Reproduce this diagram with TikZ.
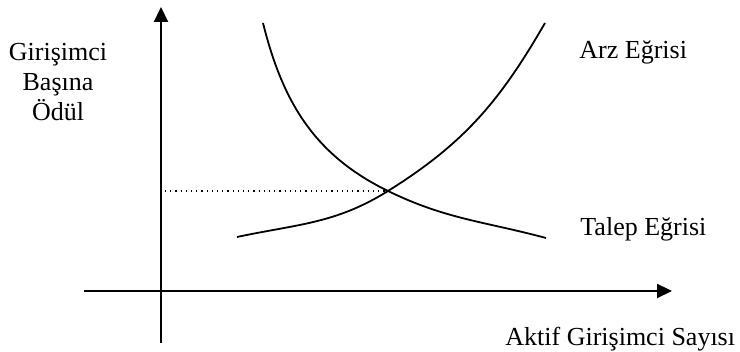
\documentclass[tikz,border=0pt]{standalone}
\usepackage{fontspec}
\setmainfont{Liberation Serif}
\usepackage{tikz}
\usetikzlibrary{arrows.meta,positioning}
\tikzset{
  axisline/.style={-{Triangle[length=7.5pt,width=7pt]},line width=1.1pt,black},
  curveline/.style={line width=0.9pt,black},
  guideline/.style={dotted,line width=0.6pt,black},
  axislabel/.style={font=\fontsize{13}{14}\selectfont,align=center,inner sep=0pt},
  curvelabel/.style={font=\fontsize{13}{14}\selectfont,anchor=base west,inner sep=0pt}
}
\begin{document}
\begin{tikzpicture}[x=0.5pt,y=0.5pt]
  \useasboundingbox (0,0) rectangle (740,352);
  % axes
  \coordinate (ybot) at (161,9);
  \coordinate (ytop) at (161,345);
  \coordinate (xleft) at (84,61);
  \coordinate (xright) at (672,61);
  \draw[axisline] (ybot) -- (ytop);
  \draw[axisline] (xleft) -- (xright);

  % curves
  \coordinate (eq) at (388,161);
  \coordinate (s0) at (237,115);
  \coordinate (s1) at (545,329);
  \coordinate (d0) at (263,329);
  \coordinate (d1) at (546,114);
  \draw[curveline] (s0) to[out=12,in=212] (eq) to[out=32,in=240] (s1);
  \draw[curveline] (d0) to[out=-76,in=154] (eq) to[out=-26,in=165] (d1);

  % equilibrium
  \coordinate (eqy) at (165,161);
  \draw[guideline] (eqy) -- (eq);

  % labels
  \node[axislabel] (ylabel) at (58,270) {Girişimci\\[1pt]Başına\\[1pt]Ödül};
  \node[curvelabel] (supply) at (579,293) {Arz Eğrisi};
  \node[curvelabel] (demand) at (580,116) {Talep Eğrisi};
  \node[curvelabel] (xlabel) at (505,6) {Aktif Girişimci Sayısı};
\end{tikzpicture}
\end{document}
